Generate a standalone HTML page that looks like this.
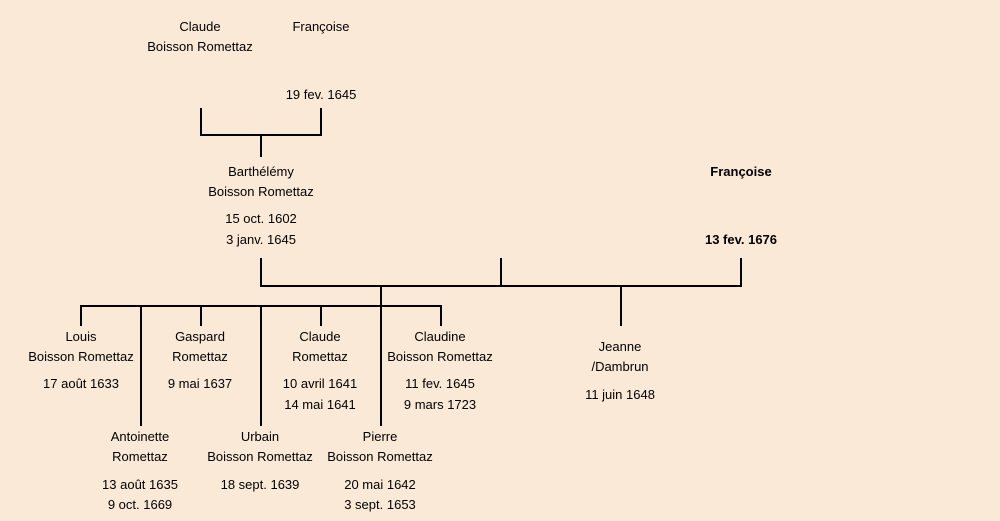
<!DOCTYPE html>
<html><head><meta charset="utf-8"><style>
body{margin:0;width:1000px;height:521px;background:#fbe9d7;position:relative;overflow:hidden;font-family:"Liberation Sans",sans-serif;font-size:13px;color:#000}
.t{position:absolute;width:200px;margin-left:-100px;text-align:center;line-height:16px;white-space:nowrap}
.b{font-weight:bold}
svg{position:absolute;left:0;top:0}
</style></head><body>
<svg width="1000" height="521"><g stroke="#000" stroke-width="2" fill="none">
<path d="M201 108V136M321 108V136M200 135H322M261 135V157"/>
<path d="M261 258V287M501 258V287M741 258V287M260 286H742M381 286V426M621 286V326"/>
<path d="M80 306H442M81 305V326M141 305V426M201 305V326M261 305V426M321 305V326M441 305V326"/>
</g></svg>
<div class="t" style="left:200px;top:19px">Claude</div>
<div class="t" style="left:200px;top:39px">Boisson Romettaz</div>
<div class="t" style="left:321px;top:19px">Françoise</div>
<div class="t" style="left:321px;top:87px">19 fev. 1645</div>
<div class="t" style="left:261px;top:164px">Barthélémy</div>
<div class="t" style="left:261px;top:184px">Boisson Romettaz</div>
<div class="t" style="left:261px;top:211px">15 oct. 1602</div>
<div class="t" style="left:261px;top:232px">3 janv. 1645</div>
<div class="t b" style="left:741px;top:164px">Françoise</div>
<div class="t b" style="left:741px;top:232px">13 fev. 1676</div>
<div class="t" style="left:81px;top:329px">Louis</div>
<div class="t" style="left:81px;top:349px">Boisson Romettaz</div>
<div class="t" style="left:81px;top:376px">17 août 1633</div>
<div class="t" style="left:200px;top:329px">Gaspard</div>
<div class="t" style="left:200px;top:349px">Romettaz</div>
<div class="t" style="left:200px;top:376px">9 mai 1637</div>
<div class="t" style="left:320px;top:329px">Claude</div>
<div class="t" style="left:320px;top:349px">Romettaz</div>
<div class="t" style="left:320px;top:376px">10 avril 1641</div>
<div class="t" style="left:320px;top:397px">14 mai 1641</div>
<div class="t" style="left:440px;top:329px">Claudine</div>
<div class="t" style="left:440px;top:349px">Boisson Romettaz</div>
<div class="t" style="left:440px;top:376px">11 fev. 1645</div>
<div class="t" style="left:440px;top:397px">9 mars 1723</div>
<div class="t" style="left:620px;top:339px">Jeanne</div>
<div class="t" style="left:620px;top:359px">/Dambrun</div>
<div class="t" style="left:620px;top:387px">11 juin 1648</div>
<div class="t" style="left:140px;top:429px">Antoinette</div>
<div class="t" style="left:140px;top:449px">Romettaz</div>
<div class="t" style="left:140px;top:477px">13 août 1635</div>
<div class="t" style="left:140px;top:497px">9 oct. 1669</div>
<div class="t" style="left:260px;top:429px">Urbain</div>
<div class="t" style="left:260px;top:449px">Boisson Romettaz</div>
<div class="t" style="left:260px;top:477px">18 sept. 1639</div>
<div class="t" style="left:380px;top:429px">Pierre</div>
<div class="t" style="left:380px;top:449px">Boisson Romettaz</div>
<div class="t" style="left:380px;top:477px">20 mai 1642</div>
<div class="t" style="left:380px;top:497px">3 sept. 1653</div>
</body></html>
